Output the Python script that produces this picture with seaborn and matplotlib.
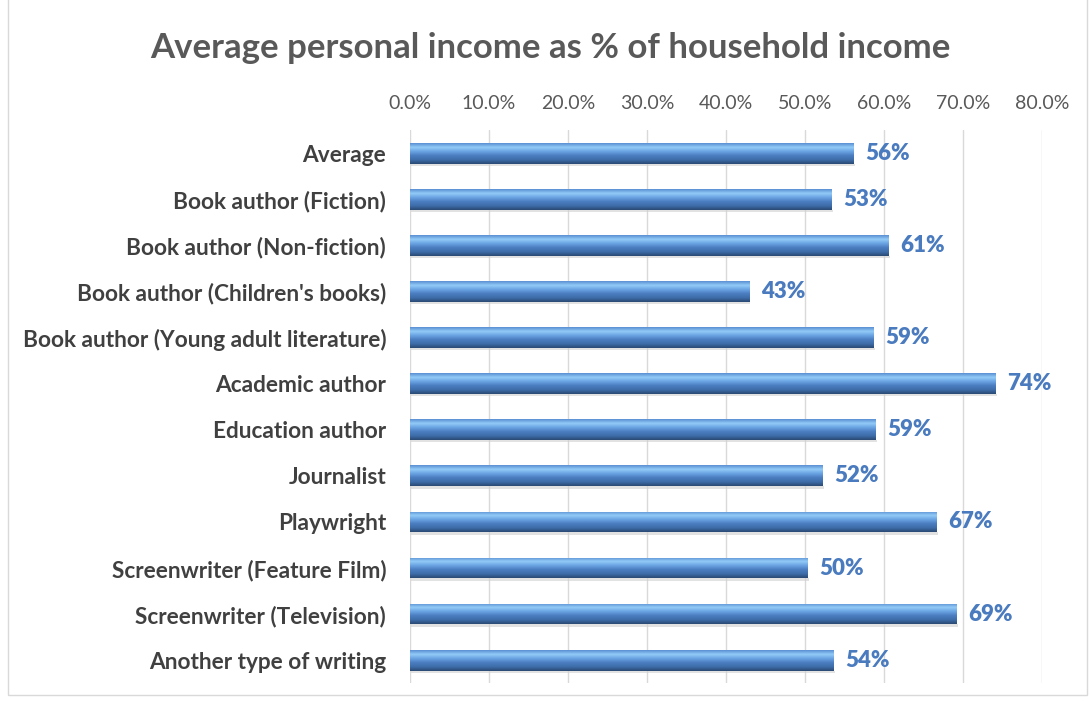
import matplotlib
matplotlib.use('Agg')
import matplotlib.pyplot as plt
from matplotlib.patches import Rectangle
from matplotlib.colors import LinearSegmentedColormap
import seaborn as sns
import numpy as np
import pandas as pd

categories = ['Average', 'Book author (Fiction)', 'Book author (Non-fiction)',
              "Book author (Children's books)", 'Book author (Young adult literature)',
              'Academic author', 'Education author', 'Journalist', 'Playwright',
              'Screenwriter (Feature Film)', 'Screenwriter (Television)',
              'Another type of writing']
shares = [0.561, 0.533, 0.606, 0.429, 0.587, 0.741, 0.589, 0.522, 0.666, 0.503, 0.692, 0.536]
ticks = [0.0, 0.1, 0.2, 0.3, 0.4, 0.5, 0.6, 0.7, 0.8]

df = pd.DataFrame({'category': categories, 'share': shares})

sns.set_style('white')
plt.rcParams['font.family'] = ['Lato', 'DejaVu Sans']

fig = plt.figure(figsize=(10.9, 7.08), dpi=100)
ax = fig.add_axes([0.376, 0.035, 0.58, 0.781])

sns.barplot(data=df, x='share', y='category', color='#4F81BD', width=0.45,
            edgecolor='none', ax=ax, zorder=3)

# gradient fill so the bars look like the rounded Excel bars (light top, dark bottom)
grad = LinearSegmentedColormap.from_list(
    'bar', ['#5A90D4', '#92CBF7', '#6AA3E2', '#4A7DC0', '#3F6DAA', '#2A4A73'])
col = np.linspace(0, 1, 100).reshape(-1, 1)
for p in ax.patches:
    x0, y0 = p.get_x(), p.get_y()
    w, h = p.get_width(), p.get_height()
    im = ax.imshow(col, cmap=grad, aspect='auto', zorder=4,
                   extent=[x0, x0 + w, y0 + h, y0], origin='upper')
    im.set_clip_path(p)
    # light shadow below the bar
    ax.add_patch(Rectangle((x0 + 0.002, y0 + h), w, 0.05, color='#d0d0d0',
                           alpha=0.6, zorder=2, lw=0))

for i, v in enumerate(shares):
    ax.text(v + 0.015, i, f'{v:.0%}', va='center', ha='left', fontsize=16,
            fontweight='heavy', color='#4A7BBF', zorder=5)

ax.set_xlim(0, 0.8)
ax.set_ylim(len(categories) - 0.5, -0.5)
ax.set_xticks(ticks)
ax.set_xticklabels([f'{t * 100:.1f}%' for t in ticks])
ax.xaxis.tick_top()
ax.tick_params(axis='x', length=0, labelsize=14, labelcolor='#595959', pad=13)
ax.tick_params(axis='y', length=0, labelsize=16.3, labelcolor='#404040', pad=17)
for lbl in ax.get_yticklabels():
    lbl.set_fontweight('bold')
ax.grid(axis='x', color='#d9d9d9', lw=1, zorder=0)
ax.set_axisbelow(True)
ax.set_xlabel('')
ax.set_ylabel('')
for s in ax.spines.values():
    s.set_visible(False)

fig.text(0.505, 0.932, 'Average personal income as % of household income',
         ha='center', va='center', fontsize=25, fontweight='bold', color='#595959')

fig.patches.append(Rectangle((0.007, 0.018), 0.99, 0.985, transform=fig.transFigure,
                             fill=False, edgecolor='#d9d9d9', lw=1))

fig.savefig('out.png', dpi=100)
